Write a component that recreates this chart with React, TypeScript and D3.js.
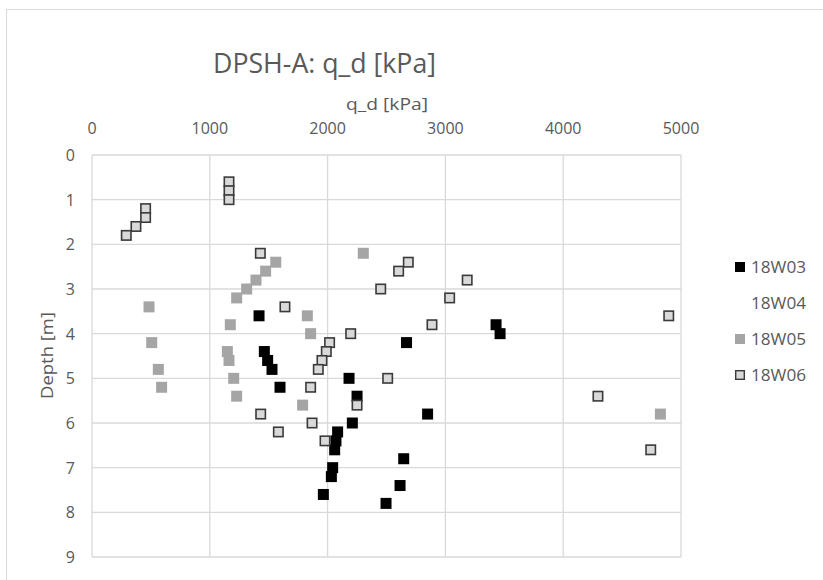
import React, { useEffect, useRef } from 'react';
import * as d3 from 'd3';

// Series names as in the legend
const seriesNames = ['18W03', '18W04', '18W05', '18W06'];

// 18W03: [q_d kPa, depth m]
const w03 = [
  [1418, 3.6], [3430, 3.8], [3464, 4.0], [2670, 4.2], [1463, 4.4], [1491, 4.6],
  [1528, 4.8], [2182, 5.0], [1596, 5.2], [2250, 5.4], [2849, 5.8], [2210, 6.0],
  [2085, 6.2], [2071, 6.4], [2060, 6.6], [2646, 6.8], [2043, 7.0], [2032, 7.2],
  [2615, 7.4], [1964, 7.6], [2496, 7.8],
];

// 18W04: no visible points in the chart
const w04: number[][] = [];

// 18W05
const w05 = [
  [2303, 2.2], [1560, 2.4], [1474, 2.6], [1392, 2.8], [1313, 3.0], [1228, 3.2],
  [484, 3.4], [1828, 3.6], [1174, 3.8], [1856, 4.0], [507, 4.2], [1149, 4.4],
  [1163, 4.6], [563, 4.8], [1203, 5.0], [591, 5.2], [1228, 5.4], [1788, 5.6],
  [4825, 5.8],
];

// 18W06
const w06 = [
  [1163, 0.6], [1163, 0.8], [1163, 1.0], [455, 1.2], [455, 1.4], [373, 1.6],
  [291, 1.8], [1429, 2.2], [2685, 2.4], [2603, 2.6], [3185, 2.8], [2451, 3.0],
  [3036, 3.2], [1638, 3.4], [4896, 3.6], [2886, 3.8], [2196, 4.0], [2017, 4.2],
  [1989, 4.4], [1952, 4.6], [1921, 4.8], [2510, 5.0], [1856, 5.2], [4295, 5.4],
  [2250, 5.6], [1432, 5.8], [1868, 6.0], [1582, 6.2], [1978, 6.4], [4743, 6.6],
];

const xTicks = [0, 1000, 2000, 3000, 4000, 5000];
const yTicks = [0, 1, 2, 3, 4, 5, 6, 7, 8, 9];

const App = () => {
  const chartRef = useRef<SVGSVGElement | null>(null);

  useEffect(() => {
    const W = 823;
    const H = 580;
    const plot = { left: 92, right: 681, top: 155, bottom: 557 };
    const textColor = '#595959';
    const font = '"Open Sans", sans-serif';

    const svg = d3.select(chartRef.current);
    svg.selectAll('*').remove();
    svg.attr('width', W).attr('height', H);

    // background + chart border
    svg.append('rect').attr('width', W).attr('height', H).attr('fill', '#fff');
    svg.append('rect')
      .attr('x', 6.5).attr('y', 9.5)
      .attr('width', 840).attr('height', 620)
      .attr('fill', 'none').attr('stroke', '#d9d9d9');

    const x = d3.scaleLinear().domain([0, 5000]).range([plot.left, plot.right]);
    const y = d3.scaleLinear().domain([0, 9]).range([plot.top, plot.bottom]);

    // gridlines
    svg.append('g').selectAll('line').data(xTicks).enter().append('line')
      .attr('x1', d => x(d)).attr('x2', d => x(d))
      .attr('y1', plot.top).attr('y2', plot.bottom)
      .attr('stroke', '#d9d9d9').attr('stroke-width', 1.3);
    svg.append('g').selectAll('line').data(yTicks).enter().append('line')
      .attr('x1', plot.left).attr('x2', plot.right)
      .attr('y1', d => y(d)).attr('y2', d => y(d))
      .attr('stroke', '#d9d9d9').attr('stroke-width', 1.3);

    // tick labels
    svg.append('g').selectAll('text').data(xTicks).enter().append('text')
      .attr('x', d => x(d)).attr('y', 128)
      .attr('text-anchor', 'middle').attr('dominant-baseline', 'central')
      .attr('font-family', font).attr('font-size', 16).attr('fill', textColor)
      .text(d => d);
    svg.append('g').selectAll('text').data(yTicks).enter().append('text')
      .attr('x', 75).attr('y', d => y(d))
      .attr('text-anchor', 'end').attr('dominant-baseline', 'central')
      .attr('font-family', font).attr('font-size', 16).attr('fill', textColor)
      .text(d => d);

    // titles (stretched to the widths seen in the picture)
    svg.append('text')
      .attr('x', 213).attr('y', 62)
      .attr('dominant-baseline', 'central')
      .attr('textLength', 223).attr('lengthAdjust', 'spacingAndGlyphs')
      .attr('font-family', font).attr('font-size', 27).attr('fill', textColor)
      .text('DPSH-A: q_d [kPa]');
    svg.append('text')
      .attr('x', 346).attr('y', 104)
      .attr('dominant-baseline', 'central')
      .attr('textLength', 82).attr('lengthAdjust', 'spacingAndGlyphs')
      .attr('font-family', font).attr('font-size', 16).attr('fill', textColor)
      .text('q_d [kPa]');
    svg.append('text')
      .attr('transform', `translate(47,${(plot.top + plot.bottom) / 2 + 43}) rotate(-90)`)
      .attr('dominant-baseline', 'central')
      .attr('textLength', 87).attr('lengthAdjust', 'spacingAndGlyphs')
      .attr('font-family', font).attr('font-size', 16).attr('fill', textColor)
      .text('Depth [m]');

    // marker styles per series
    const styles = [
      { fill: '#000000', stroke: 'none', show: true },
      { fill: 'none', stroke: 'none', show: false },
      { fill: '#a5a5a5', stroke: 'none', show: true },
      { fill: '#d9d9d9', stroke: '#3a3a3a', show: true },
    ];
    const allSeries = [w03, w04, w05, w06];
    const size = 11;

    allSeries.forEach((data, i) => {
      const s = styles[i];
      const sw = s.stroke === 'none' ? 0 : 1.6;
      svg.append('g').selectAll('rect').data(data).enter().append('rect')
        .attr('x', d => x(d[0]) - size / 2 + sw / 2)
        .attr('y', d => y(d[1]) - size / 2 + sw / 2)
        .attr('width', size - sw).attr('height', size - sw)
        .attr('fill', s.fill).attr('stroke', s.stroke).attr('stroke-width', sw);
    });

    // legend
    const legend = svg.append('g');
    seriesNames.forEach((name, i) => {
      const ly = 267 + i * 36;
      const s = styles[i];
      if (s.show) {
        const sw = s.stroke === 'none' ? 0 : 1.4;
        const ls = 10;
        legend.append('rect')
          .attr('x', 740 - ls / 2 + sw / 2).attr('y', ly - ls / 2 + sw / 2)
          .attr('width', ls - sw).attr('height', ls - sw)
          .attr('fill', s.fill).attr('stroke', s.stroke).attr('stroke-width', sw);
      }
      legend.append('text')
        .attr('x', 751).attr('y', ly)
        .attr('dominant-baseline', 'central')
        .attr('textLength', 55).attr('lengthAdjust', 'spacingAndGlyphs')
        .attr('font-family', font).attr('font-size', 16).attr('fill', textColor)
        .text(name);
    });
  }, []);

  return (
    <svg ref={chartRef} style={{ position: 'absolute', left: 0, top: 0, display: 'block' }}></svg>
  );
};

export default App;
